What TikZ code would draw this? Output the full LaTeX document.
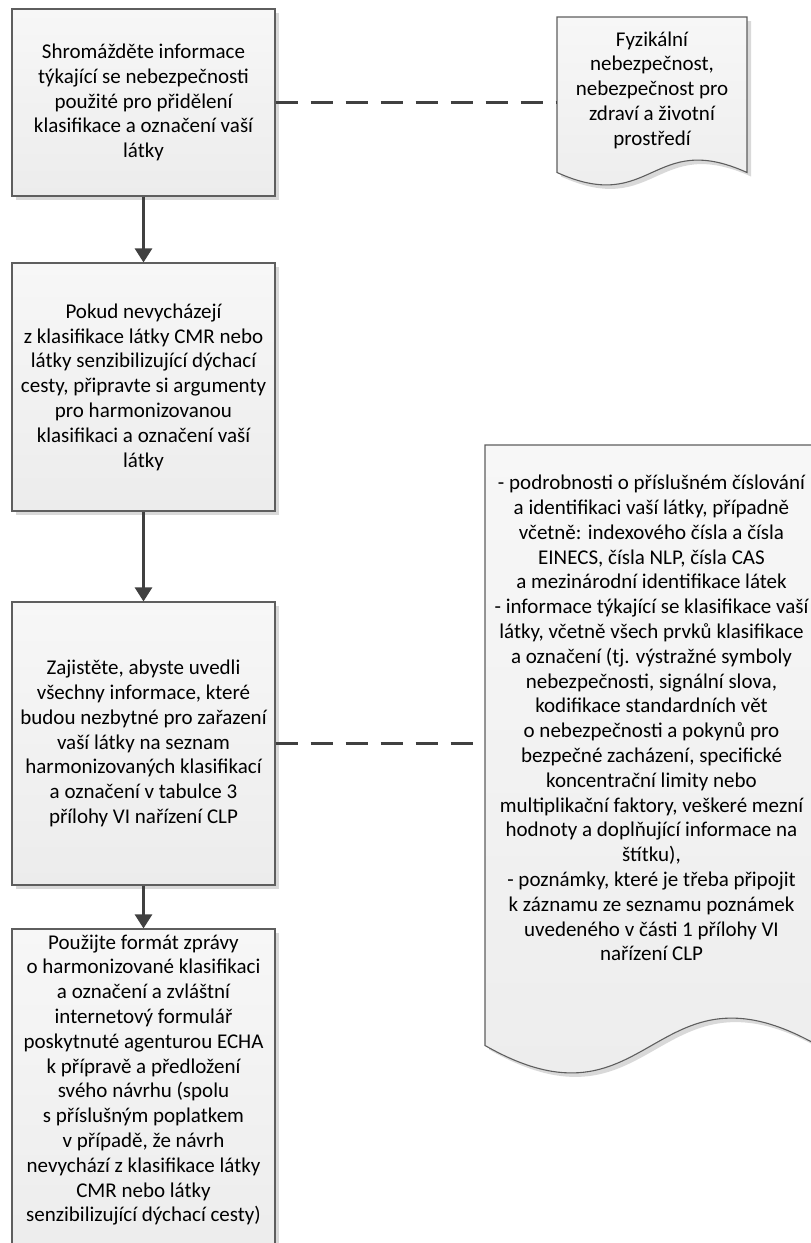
\documentclass[tikz,border=0pt]{standalone}
\usepackage{fontspec}
\setmainfont{Carlito}
\usetikzlibrary{arrows.meta,shadows}
\definecolor{edge}{HTML}{5E5E5E}
\definecolor{conn}{HTML}{404040}
\definecolor{filltop}{HTML}{F7F7F7}
\definecolor{fillbot}{HTML}{ECECEC}
\begin{document}
\begin{tikzpicture}[x=1pt,y=-1pt,
  txt/.style={font=\fontsize{21}{24.8}\selectfont, align=center, inner sep=0pt, text=black},
  box/.style={txt, draw=edge, line width=1.1pt, top color=filltop, bottom color=fillbot,
    drop shadow={shadow xshift=4pt, shadow yshift=-4pt, opacity=0.15, fill=black}},
  flow/.style={draw=conn, line width=2.6pt, -{Triangle[width=17pt,length=14pt]}},
  link/.style={draw=conn, line width=2.6pt, dash pattern=on 22pt off 13pt},
  docshape/.style={draw=edge, line width=1.1pt, top color=filltop, bottom color=fillbot},
  docshadow/.style={fill=black, opacity=0.15}
]
\useasboundingbox (0,0) rectangle (811,1243);

% document shapes
\fill[docshadow, shift={(4,4)}] (557,17) -- (747,17) -- (747,172.5) .. controls (652,129.5) and (652,215.5) .. (557,172.5) -- cycle;
\path[docshape] (557,17) -- (747,17) -- (747,172.5) .. controls (652,129.5) and (652,215.5) .. (557,172.5) -- cycle;

\fill[docshadow, shift={(4,4)}] (485,445) -- (818,445) -- (818,1045.5) .. controls (651.5,950.5) and (651.5,1140.5) .. (485,1045.5) -- cycle;
\path[docshape] (485,445) -- (818,445) -- (818,1045.5) .. controls (651.5,950.5) and (651.5,1140.5) .. (485,1045.5) -- cycle;

\node[txt] (d1) at (652,90) {Fyzikální\\ nebezpečnost,\\ nebezpečnost pro\\ zdraví a životní\\ prostředí};

\node[txt] (d2) at (651.5,718) {- podrobnosti o příslušném číslování\\
a identifikaci vaší látky, případně\\
včetně: indexového čísla a čísla\\
EINECS, čísla NLP, čísla CAS\\
a mezinárodní identifikace látek\\
- informace týkající se klasifikace vaší\\
látky, včetně všech prvků klasifikace\\
a označení (tj. výstražné symboly\\
nebezpečnosti, signální slova,\\
kodifikace standardních vět\\
o nebezpečnosti a pokynů pro\\
bezpečné zacházení, specifické\\
koncentrační limity nebo\\
multiplikační faktory, veškeré mezní\\
hodnoty a doplňující informace na\\
štítku),\\
- poznámky, které je třeba připojit\\
k záznamu ze seznamu poznámek\\
uvedeného v části 1 přílohy VI\\
nařízení CLP};

% process boxes
\node[box, minimum width=263pt, minimum height=187pt] (b1) at (143.5,102.5)
  {Shromážděte informace\\ týkající se nebezpečnosti\\ použité pro přidělení\\ klasifikace a označení vaší\\ látky};
\node[box, minimum width=263pt, minimum height=248pt] (b2) at (143.5,387)
  {Pokud nevycházejí\\ z klasifikace látky CMR nebo\\ látky senzibilizující dýchací\\ cesty, připravte si argumenty\\ pro harmonizovanou\\ klasifikaci a označení vaší\\ látky};
\node[box, minimum width=263pt, minimum height=283pt] (b3) at (143.5,743.5)
  {Zajistěte, abyste uvedli\\ všechny informace, které\\ budou nezbytné pro zařazení\\ vaší látky na seznam\\ harmonizovaných klasifikací\\ a označení v tabulce 3\\ přílohy VI nařízení CLP};
\node[box, minimum width=263pt, minimum height=331pt] (b4) at (143.5,1094.5) {};
\node[txt] (t4) at (143.5,1080)
  {Použijte formát zprávy\\ o harmonizované klasifikaci\\ a označení a zvláštní\\ internetový formulář\\ poskytnuté agenturou ECHA\\ k přípravě a předložení\\ svého návrhu (spolu\\ s příslušným poplatkem\\ v případě, že návrh\\ nevychází z klasifikace látky\\ CMR nebo látky\\ senzibilizující dýchací cesty)};

% connectors
\coordinate (d1w) at (557,102.5);
\coordinate (d2w) at (485,743.5);
\draw[link] (b1.east) -- (d1w);
\draw[link] (b3.east) -- (d2w);
\draw[flow] (b1.south) -- (b2.north);
\draw[flow] (b2.south) -- (b3.north);
\draw[flow] (b3.south) -- (b4.north);
\end{tikzpicture}
\end{document}
